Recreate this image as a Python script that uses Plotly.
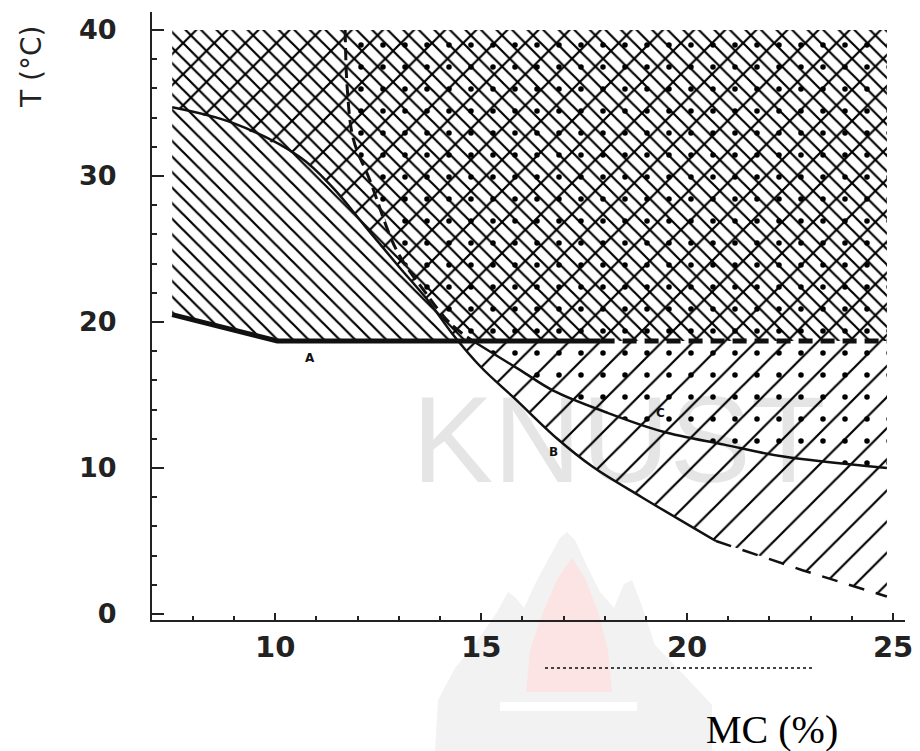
import plotly.graph_objects as go

# ---------------- data ----------------
t_top = 40.0                      # upper bound of the shaded regions
a_x = [7.5, 10.05, 17.9, 24.85]   # curve A
a_t = [20.5, 18.7, 18.7, 18.7]
b_x = [7.5, 9.0, 10.6, 11.4, 12.2, 13.0, 13.7, 14.3, 15.0, 15.8, 16.85, 17.7, 18.9, 20.7, 22.8, 24.85]
b_t = [34.7, 33.6, 31.3, 29.2, 26.5, 23.8, 21.5, 19.2, 16.9, 14.8, 12.0, 10.1, 8.0, 5.0, 3.0, 1.2]
c_x = [11.7, 11.75, 11.9, 12.3, 12.95, 13.6, 14.25, 14.8, 15.95, 16.75, 18.05, 19.4, 20.9, 22.3, 24.85]
c_t = [40.0, 36.0, 32.5, 29.7, 24.9, 22.2, 19.9, 18.7, 16.7, 15.3, 13.8, 12.5, 11.6, 10.8, 10.0]
curve_labels = ["A", "B", "C"]
label_x = [10.85, 16.75, 19.35]
label_t = [17.5, 11.1, 13.8]
x_ticks = [10, 15, 20, 25]
t_ticks = [0, 10, 20, 30, 40]

# ---------------- figure geometry ----------------
# the page body has an 8 px default margin, so the figure is 8 px smaller
OFF = 8
W, H = 920 - OFF, 751 - OFF
ML, MR, MT, MB = 152 - OFF, 15, 12 - OFF, 131
PW, PH = W - ML - MR, H - MT - MB


def px2paper(px, py):
    """page pixel -> paper coordinates"""
    fx, fy = px - OFF, py - OFF
    return (fx - ML) / PW, (H - MB - fy) / PH


def path_from_px(points):
    parts = []
    for i, (px, py) in enumerate(points):
        u, v = px2paper(px, py)
        parts.append(("M" if i == 0 else "L") + f"{u:.4f},{v:.4f}")
    return " ".join(parts) + " Z"


fig = go.Figure()

# shaded regions (pattern fills, transparent backgrounds so they overlay)
fig.add_trace(go.Scatter(
    x=a_x + [a_x[-1], a_x[0]], y=a_t + [t_top, t_top],
    mode="none", fill="toself", fillcolor="rgba(0,0,0,0)",
    fillpattern=dict(shape="\\", size=11, solidity=0.2, fgcolor="#000", fgopacity=1,
                     bgcolor="rgba(0,0,0,0)"),
    hoverinfo="skip", showlegend=False))
fig.add_trace(go.Scatter(
    x=b_x + [b_x[-1], b_x[0]], y=b_t + [t_top, t_top],
    mode="none", fill="toself", fillcolor="rgba(0,0,0,0)",
    fillpattern=dict(shape="/", size=22, solidity=0.1, fgcolor="#000", fgopacity=1,
                     bgcolor="rgba(0,0,0,0)"),
    hoverinfo="skip", showlegend=False))
fig.add_trace(go.Scatter(
    x=c_x + [c_x[-1]], y=c_t + [t_top],
    mode="none", fill="toself", fillcolor="rgba(0,0,0,0)",
    fillpattern=dict(shape=".", size=22, solidity=0.05, fgcolor="#000", fgopacity=1,
                     bgcolor="rgba(0,0,0,0)"),
    hoverinfo="skip", showlegend=False))

# boundary curves
line_col = "#111"
fig.add_trace(go.Scatter(x=a_x[:3], y=a_t[:3], mode="lines",
                         line=dict(color=line_col, width=5), hoverinfo="skip", showlegend=False))
fig.add_trace(go.Scatter(x=a_x[2:], y=a_t[2:], mode="lines",
                         line=dict(color=line_col, width=5, dash="14px,8px"), hoverinfo="skip", showlegend=False))
fig.add_trace(go.Scatter(x=b_x[:14], y=b_t[:14], mode="lines", line_shape="spline",
                         line=dict(color=line_col, width=2.5), hoverinfo="skip", showlegend=False))
fig.add_trace(go.Scatter(x=b_x[13:], y=b_t[13:], mode="lines",
                         line=dict(color=line_col, width=2.5, dash="16px,12px"), hoverinfo="skip", showlegend=False))
fig.add_trace(go.Scatter(x=c_x[:8], y=c_t[:8], mode="lines", line_shape="spline",
                         line=dict(color=line_col, width=3, dash="12px,6px"), hoverinfo="skip", showlegend=False))
fig.add_trace(go.Scatter(x=c_x[7:], y=c_t[7:], mode="lines", line_shape="spline",
                         line=dict(color=line_col, width=2.5), hoverinfo="skip", showlegend=False))

# ---------------- watermark logo (background decoration) ----------------
outer_flame = [(435, 751), (438, 700), (455, 668), (478, 640), (497, 612), (508, 592),
               (516, 598), (524, 608), (536, 582), (550, 556), (560, 538), (567, 532),
               (575, 540), (586, 564), (600, 592), (614, 608), (624, 584), (632, 580),
               (642, 606), (655, 645), (685, 676), (712, 705), (712, 751)]
inner_flame = [(526, 692), (530, 650), (543, 612), (558, 578), (572, 558), (585, 578),
               (598, 612), (608, 650), (612, 692)]
white_bar = [(500, 702), (637, 702), (637, 711), (500, 711)]
shapes = [
    dict(type="path", xref="paper", yref="paper", path=path_from_px(outer_flame),
         fillcolor="#f2f2f2", line=dict(width=0), layer="below"),
    dict(type="path", xref="paper", yref="paper", path=path_from_px(inner_flame),
         fillcolor="#fce4e4", line=dict(width=0), layer="below"),
    dict(type="path", xref="paper", yref="paper", path=path_from_px(white_bar),
         fillcolor="#ffffff", line=dict(width=0), layer="below"),
]
# remnant of the original (cropped) axis title
u0, v0 = px2paper(545, 668)
u1, _ = px2paper(815, 668)
shapes.append(dict(type="line", xref="paper", yref="paper", x0=u0, x1=u1, y0=v0, y1=v0,
                   line=dict(color="#444", width=2, dash="dot")))

annotations = []
kx, ky = px2paper(618, 440)
annotations.append(dict(text="KNUST", xref="paper", yref="paper", x=kx, y=ky,
                        xanchor="center", yanchor="middle",
                        showarrow=False, font=dict(family="Liberation Sans", size=122,
                                                   color="rgba(0,0,0,0.10)")))
for lab, lx, lt in zip(curve_labels, label_x, label_t):
    annotations.append(dict(text=lab, x=lx, y=lt, xref="x", yref="y", showarrow=False,
                            xanchor="center", yanchor="middle",
                            font=dict(family="DejaVu Sans", size=12, color="#111",
                                      weight="bold")))
tx, ty = px2paper(31, 67)
annotations.append(dict(text="T (°C)", xref="paper", yref="paper", x=tx, y=ty,
                        xanchor="center", yanchor="middle",
                        textangle=-90, showarrow=False,
                        font=dict(family="DejaVu Sans", size=28, color="#222")))
mx, my = px2paper(772, 729)
annotations.append(dict(text="MC (%)", xref="paper", yref="paper", x=mx, y=my,
                        xanchor="center", yanchor="middle",
                        showarrow=False,
                        font=dict(family="Liberation Serif", size=40, color="#000")))

xtickfont = dict(family="DejaVu Sans", size=29, color="#222", weight="bold")
ytickfont = dict(family="DejaVu Sans", size=27, color="#222", weight="bold")
fig.update_layout(
    width=W, height=H,
    margin=dict(l=ML, r=MR, t=MT, b=MB),
    paper_bgcolor="white", plot_bgcolor="white",
    shapes=shapes, annotations=annotations,
    xaxis=dict(range=[7.01, 25.29], tickmode="array", tickvals=x_ticks,
               ticks="inside", ticklen=7, tickwidth=2, tickcolor="#222",
               showline=True, linewidth=2, linecolor="#222",
               showgrid=False, zeroline=False, tickfont=xtickfont,
               ticklabelstandoff=0,
               minor=dict(tickmode="linear", tick0=0, dtick=1, ticks="inside",
                          ticklen=4, tickwidth=1.5, tickcolor="#222", showgrid=False)),
    yaxis=dict(range=[-0.41, 41.23], tickmode="array", tickvals=t_ticks,
               ticks="inside", ticklen=12, tickwidth=2, tickcolor="#222",
               showline=True, linewidth=2, linecolor="#222",
               showgrid=False, zeroline=False, tickfont=ytickfont,
               ticklabelstandoff=28,
               minor=dict(tickmode="linear", tick0=0, dtick=2, ticks="inside",
                          ticklen=5, tickwidth=1.5, tickcolor="#222", showgrid=False)),
)

fig.write_html("out.html")
